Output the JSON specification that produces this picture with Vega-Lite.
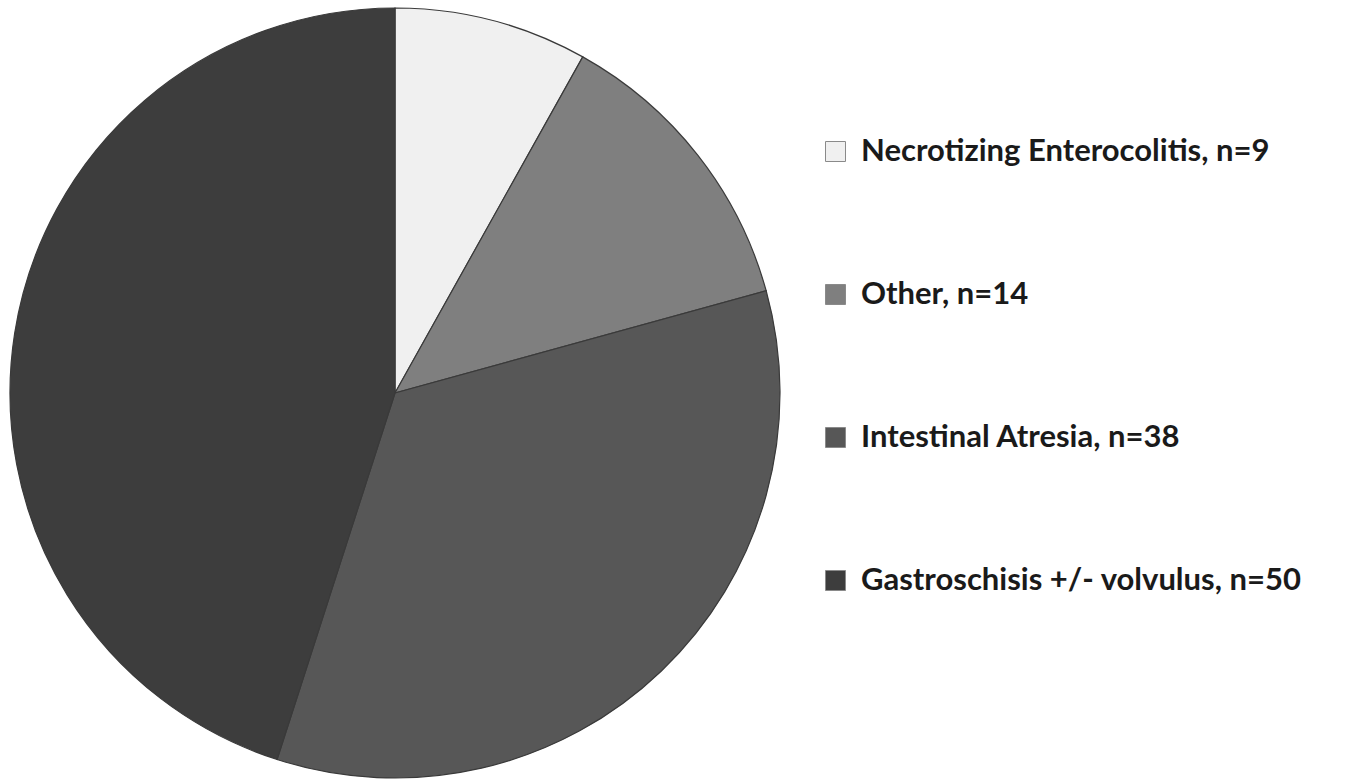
{
  "$schema": "https://vega.github.io/schema/vega-lite/v6.json",
  "width": 790,
  "height": 786,
  "padding": 0,
  "background": "white",
  "view": {"stroke": null},
  "data": {
    "values": [
      {"label": "Necrotizing Enterocolitis, n=9", "n": 9, "k": 1},
      {"label": "Other, n=14", "n": 14, "k": 2},
      {"label": "Intestinal Atresia, n=38", "n": 38, "k": 3},
      {"label": "Gastroschisis +/- volvulus, n=50", "n": 50, "k": 4}
    ]
  },
  "mark": {"type": "arc", "outerRadius": 385, "stroke": "#3a3a3a", "strokeWidth": 1.2},
  "encoding": {
    "theta": {"field": "n", "type": "quantitative", "stack": true},
    "order": {"field": "k", "type": "quantitative"},
    "color": {
      "field": "label",
      "type": "nominal",
      "sort": null,
      "scale": {
        "domain": ["Necrotizing Enterocolitis, n=9", "Other, n=14", "Intestinal Atresia, n=38", "Gastroschisis +/- volvulus, n=50"],
        "range": ["#f0f0f0", "#7f7f7f", "#575757", "#3d3d3d"]
      },
      "legend": {
        "title": null,
        "orient": "none",
        "legendX": 820,
        "legendY": 136,
        "symbolType": "square",
        "symbolSize": 400,
        "symbolStrokeColor": "#8a8a8a",
        "symbolStrokeWidth": 1,
        "labelFont": "Lato",
        "labelFontWeight": "bold",
        "labelFontSize": 31,
        "labelColor": "#1a1a1a",
        "labelOffset": 10,
        "labelLimit": 600,
        "rowPadding": 111
      }
    }
  }
}
